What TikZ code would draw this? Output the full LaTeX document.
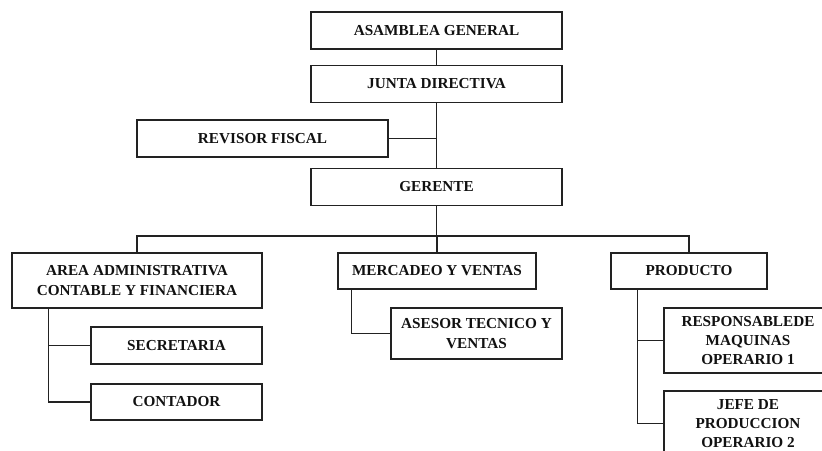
\documentclass[tikz,border=0pt]{standalone}
\usepackage{fontspec}
\setmainfont{Liberation Serif}
\definecolor{chartline}{HTML}{222222}
\definecolor{chartink}{HTML}{111111}

\begin{document}
\begin{tikzpicture}[
  x=0.03cm,
  y=-0.03cm,
  every node/.style={chartink},
  unit/.style={draw=chartline, line width=1.15pt, align=center, inner sep=0pt,
    font=\fontsize{13}{16.5}\selectfont\bfseries},
  headunit/.style={unit, minimum width=7.53cm, minimum height=1.1cm},
  link/.style={chartline, line width=1.15pt}
]

  \useasboundingbox (0,0) rectangle (822,450);
  \clip (0,0) rectangle (822,450);

  % ---- top of the chart ------------------------------------------------
  \node[headunit] (asamblea) at (436.5,30.5) {ASAMBLEA GENERAL};
  \node[headunit] (junta) at (436.5,84) {JUNTA DIRECTIVA};
  \node[headunit] (revisor) at (262.5,138.5) {REVISOR FISCAL};
  \node[headunit] (gerente) at (436.5,187) {GERENTE};

  % ---- the three areas -------------------------------------------------
  \node[unit, minimum width=7.5cm, minimum height=1.65cm] (area) at (137,280.5)
    {AREA ADMINISTRATIVA\\CONTABLE Y FINANCIERA};
  \node[unit, minimum width=5.94cm, minimum height=1.08cm] (mercadeo) at (437,271)
    {MERCADEO Y VENTAS};
  \node[unit, minimum width=4.68cm, minimum height=1.08cm] (producto) at (689,271)
    {PRODUCTO};

  % ---- the posts under each area ---------------------------------------
  \node[unit, minimum width=5.13cm, minimum height=1.11cm] (secretaria) at (176.5,345.5)
    {SECRETARIA};
  \node[unit, minimum width=5.13cm, minimum height=1.08cm] (contador) at (176.5,402)
    {CONTADOR};
  \node[unit, minimum width=5.13cm, minimum height=1.53cm] (asesor) at (476.5,333.5)
    {ASESOR TECNICO Y\\VENTAS};
  \node[unit, minimum width=5.04cm, minimum height=1.95cm] (responsable) at (748,340.5)
    {RESPONSABLEDE\\MAQUINAS\\OPERARIO 1};
  \node[unit, minimum width=5.04cm, minimum height=1.95cm] (jefe) at (748,423.5)
    {JEFE DE\\PRODUCCION\\OPERARIO 2};

  % ---- connectors ------------------------------------------------------
  \coordinate (fiscal) at (junta.south |- revisor.east);
  \coordinate (bus) at (gerente.south |- 0,236);

  \draw[link] (asamblea) -- (junta);
  \draw[link] (junta) -- (gerente);
  \draw[link] (revisor.east) -- (fiscal);
  \draw[link] (gerente) -- (bus);
  \draw[link] (area.north) |- (bus) -| (producto.north);
  \draw[link] (mercadeo.north) -- (mercadeo.north |- bus);

  \draw[link] ([xshift=1.11cm]area.south west) |- (secretaria.west);
  \draw[link] ([xshift=1.11cm]area.south west) |- (contador.west);
  \draw[link] ([xshift=0.42cm]mercadeo.south west) |- (asesor.west);
  \draw[link] ([xshift=0.81cm]producto.south west) |- (responsable.west);
  \draw[link] ([xshift=0.81cm]producto.south west) |- (jefe.west);

\end{tikzpicture}
\end{document}
